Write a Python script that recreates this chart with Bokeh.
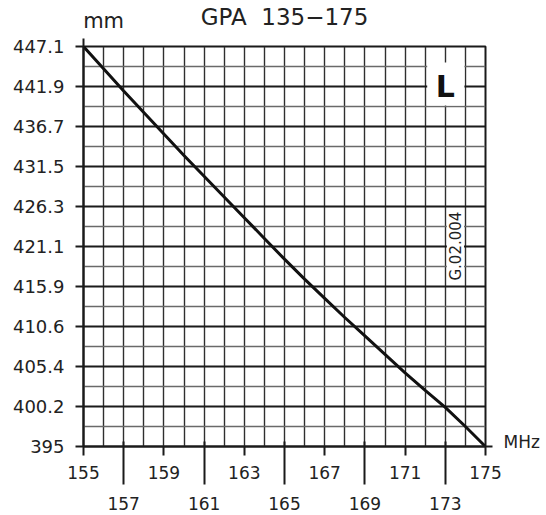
from bokeh.plotting import figure
from bokeh.models import Range1d, FixedTicker, LinearAxis, Label, NumeralTickFormatter
from bokeh.embed import file_html
from bokeh.resources import INLINE

# ---- data ----
freq_mhz = [155, 156, 157, 158, 159, 160, 161, 162, 163, 164, 165,
            166, 167, 168, 169, 170, 171, 172, 173, 174, 175]
length_mm = [447.1, 444.2, 441.3, 438.5, 435.7, 432.9, 430.2, 427.5, 424.8, 422.1, 419.4,
             416.8, 414.3, 411.8, 409.4, 407.0, 404.6, 402.3, 400.1, 397.6, 395.0]
y_ticks = [395, 400.2, 405.4, 410.6, 415.9, 421.1, 426.3, 431.5, 436.7, 441.9, 447.1]
x_ticks_row1 = [155, 159, 163, 167, 171, 175]
x_ticks_row2 = [157, 161, 165, 169, 173]
title_text = "GPA\u00a0\u00a0135\u2212175"
y_unit = "mm"
x_unit = "MHz"
corner_tag = "L"
ref_code = "G.02.004"

FONT = "DejaVu Sans"
INK = "#1a1a1a"
TXT = "#222222"

p = figure(width=546, height=515, x_range=Range1d(155, 175), y_range=Range1d(395, 447.1),
           output_backend="svg", toolbar_location=None,
           min_border_left=83, min_border_right=61, min_border_top=45, min_border_bottom=69)
p.background_fill_color = "white"
p.border_fill_color = "white"
p.outline_line_color = INK
p.outline_line_width = 2

# grids
y_mid = [(a + b) / 2 for a, b in zip(y_ticks[:-1], y_ticks[1:])]
p.xgrid[0].ticker = FixedTicker(ticks=freq_mhz)
p.xgrid[0].grid_line_color = "#2e2e2e"
p.xgrid[0].grid_line_width = 1.4
p.ygrid[0].ticker = FixedTicker(ticks=y_ticks, minor_ticks=y_mid)
p.ygrid[0].grid_line_color = "#1a1a1a"
p.ygrid[0].grid_line_width = 1.9
p.ygrid[0].minor_grid_line_color = "#6a6a6a"
p.ygrid[0].minor_grid_line_width = 1.3


def style_ticks(ax, size="17px"):
    ax.minor_tick_out = 0
    ax.minor_tick_in = 0
    ax.major_tick_in = 0
    ax.major_tick_line_color = INK
    ax.major_tick_line_width = 2
    ax.major_label_text_font = FONT
    ax.major_label_text_font_size = size
    ax.major_label_text_color = TXT


# y axis
ya = p.yaxis[0]
ya.ticker = FixedTicker(ticks=y_ticks)
ya.formatter = NumeralTickFormatter(format="0[.]0")
style_ticks(ya, "18px")
ya.major_tick_out = 8
ya.axis_line_color = INK
ya.axis_line_width = 2
ya.major_label_standoff = 11

# x axis row 1
xa = p.xaxis[0]
xa.ticker = FixedTicker(ticks=x_ticks_row1)
style_ticks(xa)
xa.major_tick_out = 9
xa.axis_line_color = INK
xa.axis_line_width = 2
xa.major_label_standoff = 10

# x axis row 2 (long ticks)
xb = LinearAxis(ticker=FixedTicker(ticks=x_ticks_row2))
style_ticks(xb)
xb.major_tick_in = 40
xb.major_tick_out = 3
xb.axis_line_color = None
xb.major_label_standoff = 12
p.add_layout(xb, "below")

# top: unit "mm" as tick label, title as axis label, small extension of the y-axis line
ta = LinearAxis(ticker=FixedTicker(ticks=[156], minor_ticks=[155]))
style_ticks(ta, "21px")
ta.major_label_overrides = {156: y_unit}
ta.major_tick_out = 0
ta.major_tick_line_color = None
ta.minor_tick_out = 8
ta.minor_tick_line_color = INK
ta.minor_tick_line_width = 2
ta.axis_line_color = None
ta.major_label_standoff = 6
ta.axis_label = title_text
ta.axis_label_text_font = FONT
ta.axis_label_text_font_size = "23px"
ta.axis_label_text_font_style = "normal"
ta.axis_label_text_color = TXT
ta.axis_label_standoff = -24
p.add_layout(ta, "above")

# right: unit "MHz" next to the bottom line, with its small extension
ra = LinearAxis(ticker=FixedTicker(ticks=[395.6], minor_ticks=[395]))
style_ticks(ra)
ra.major_label_overrides = {395.6: x_unit}
ra.major_tick_out = 0
ra.major_tick_line_color = None
ra.minor_tick_out = 7
ra.minor_tick_line_color = INK
ra.minor_tick_line_width = 2
ra.axis_line_color = None
ra.major_label_standoff = 11
p.add_layout(ra, "right")

# white boxes for the labels inside the grid
p.quad(left=[172.1], right=[173.95], top=[445.0], bottom=[439.4],
       fill_color="white", line_color=None)
p.quad(left=[173.08], right=[173.93], top=[425.9], bottom=[416.3],
       fill_color="white", line_color=None)

# curve
p.line(freq_mhz, length_mm, line_width=3, line_color="#111111")

# texts inside the frame
p.add_layout(Label(x=173.0, y=441.9, text=corner_tag, text_font=FONT, text_font_size="30px",
                   text_font_style="bold", text_align="center", text_baseline="middle",
                   text_color="#111111"))
p.add_layout(Label(x=173.55, y=421.1, text=ref_code, text_font=FONT, text_font_size="15px",
                   angle=1.5708, text_align="center", text_baseline="middle",
                   text_color=TXT))

open("out.html", "w").write(file_html(p, INLINE))
